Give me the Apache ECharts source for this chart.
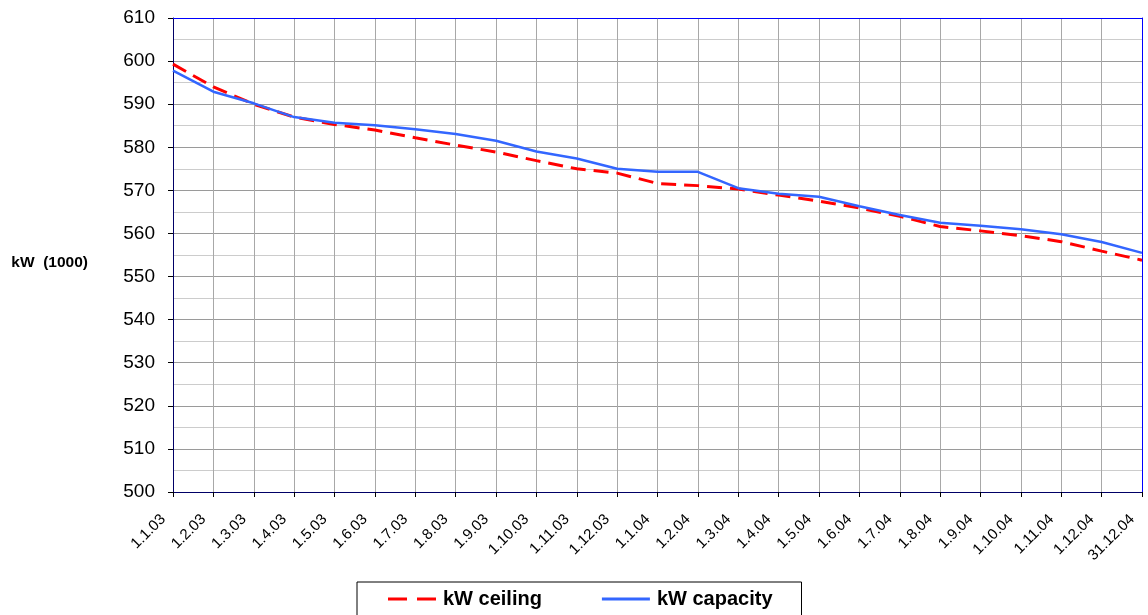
<!DOCTYPE html>
<html>
<head>
<meta charset="utf-8">
<script src="https://cdn.jsdelivr.net/npm/echarts@6/dist/echarts.min.js"></script>
<style>
  html, body { margin: 0; padding: 0; background: #fff; }
  #container { width: 1148px; height: 615px; }
</style>
</head>
<body>
<div id="container"></div>
<script>
// dates on the x axis
var categories = ['1.1.03', '1.2.03', '1.3.03', '1.4.03', '1.5.03', '1.6.03', '1.7.03', '1.8.03',
    '1.9.03', '1.10.03', '1.11.03', '1.12.03', '1.1.04', '1.2.04', '1.3.04', '1.4.04', '1.5.04',
    '1.6.04', '1.7.04', '1.8.04', '1.9.04', '1.10.04', '1.11.04', '1.12.04', '31.12.04'];

// kW (1000)
var ceiling = [599.3, 594.0, 590.0, 587.0, 585.3, 584.0, 582.2, 580.5, 578.9, 576.9, 575.0, 574.0,
    571.6, 571.1, 570.3, 568.9, 567.5, 565.9, 564.0, 561.6, 560.6, 559.5, 558.1, 555.9, 553.8];
var capacity = [597.8, 592.9, 590.2, 587.0, 585.7, 585.1, 584.2, 583.1, 581.5, 579.0, 577.4, 575.0,
    574.3, 574.3, 570.5, 569.2, 568.5, 566.3, 564.3, 562.5, 561.8, 561.0, 559.8, 558.0, 555.5];

var yMin = 500, yMax = 610, yStep = 10;

var font = 'Liberation Sans, Arial, sans-serif';
var dom = document.getElementById('container');
var myChart = echarts.init(dom);

var option = {
    backgroundColor: '#fff',
    animation: false,
    textStyle: { fontFamily: font },
    grid: {
        left: 173,
        right: 6,
        top: 18,
        bottom: 123
    },
    legend: {
        left: 357,
        top: 582,
        orient: 'horizontal',
        borderColor: '#000',
        borderWidth: 1,
        padding: [7, 29, 12, 31],
        itemWidth: 48,
        itemHeight: 3,
        itemGap: 60,
        textStyle: { fontSize: 20, fontWeight: 'bold', color: '#000', fontFamily: font, padding: [0, 0, 0, 2] },
        data: [
            { name: 'kW ceiling', icon: 'path://M0,0h19v3h-19z M29,0h19v3h-19z', itemStyle: { color: '#ff0000' } },
            { name: 'kW capacity', icon: 'path://M0,0h48v3h-48z', itemStyle: { color: '#3366ff' } }
        ]
    },
    xAxis: [
        {
            type: 'category',
            data: categories,
            boundaryGap: false,
            axisLine: { lineStyle: { color: '#000066', width: 1 } },
            axisTick: { show: true, length: 5, lineStyle: { color: '#000' } },
            axisLabel: {
                interval: 0,
                rotate: 45,
                margin: 15,
                padding: [0, 14, 0, 0],
                fontSize: 15,
                color: '#000',
                fontFamily: font
            },
            splitLine: { show: true, lineStyle: { color: '#a8a8a8', width: 1 } }
        },
        {
            // top border
            type: 'category',
            data: categories,
            position: 'top',
            boundaryGap: false,
            axisLine: { show: true, lineStyle: { color: '#0000ff', width: 1 } },
            axisTick: { show: false },
            axisLabel: { show: false },
            splitLine: { show: false }
        }
    ],
    yAxis: [
        {
            type: 'value',
            min: yMin,
            max: yMax,
            interval: yStep,
            name: 'kW  (1000)',
            nameLocation: 'middle',
            nameRotate: 0,
            nameGap: 85,
            nameTextStyle: { fontSize: 15.5, fontWeight: 'bold', color: '#000', fontFamily: font, verticalAlign: 'top' },
            axisLine: { show: true, lineStyle: { color: '#000066', width: 1 } },
            axisTick: { show: true, length: 5, lineStyle: { color: '#000' } },
            axisLabel: { fontSize: 19, color: '#000', margin: 18, fontFamily: font },
            splitLine: { show: true, lineStyle: { color: '#9a9a9a', width: 1 } },
            minorTick: { show: false, splitNumber: 2 },
            minorSplitLine: { show: true, lineStyle: { color: '#cccccc', width: 1 } }
        },
        {
            // right border
            type: 'value',
            min: yMin,
            max: yMax,
            interval: yStep,
            position: 'right',
            axisLine: { show: true, lineStyle: { color: '#0000ff', width: 1 } },
            axisTick: { show: false },
            axisLabel: { show: false },
            splitLine: { show: false }
        }
    ],
    series: [
        {
            name: 'kW ceiling',
            type: 'line',
            data: ceiling,
            symbol: 'none',
            z: 3,
            lineStyle: { color: '#ff0000', width: 3, type: [15, 8] },
            itemStyle: { color: '#ff0000' }
        },
        {
            name: 'kW capacity',
            type: 'line',
            data: capacity,
            symbol: 'none',
            z: 4,
            lineStyle: { color: '#3366ff', width: 2.5 },
            itemStyle: { color: '#3366ff' }
        }
    ]
};

myChart.setOption(option);
</script>
</body>
</html>
